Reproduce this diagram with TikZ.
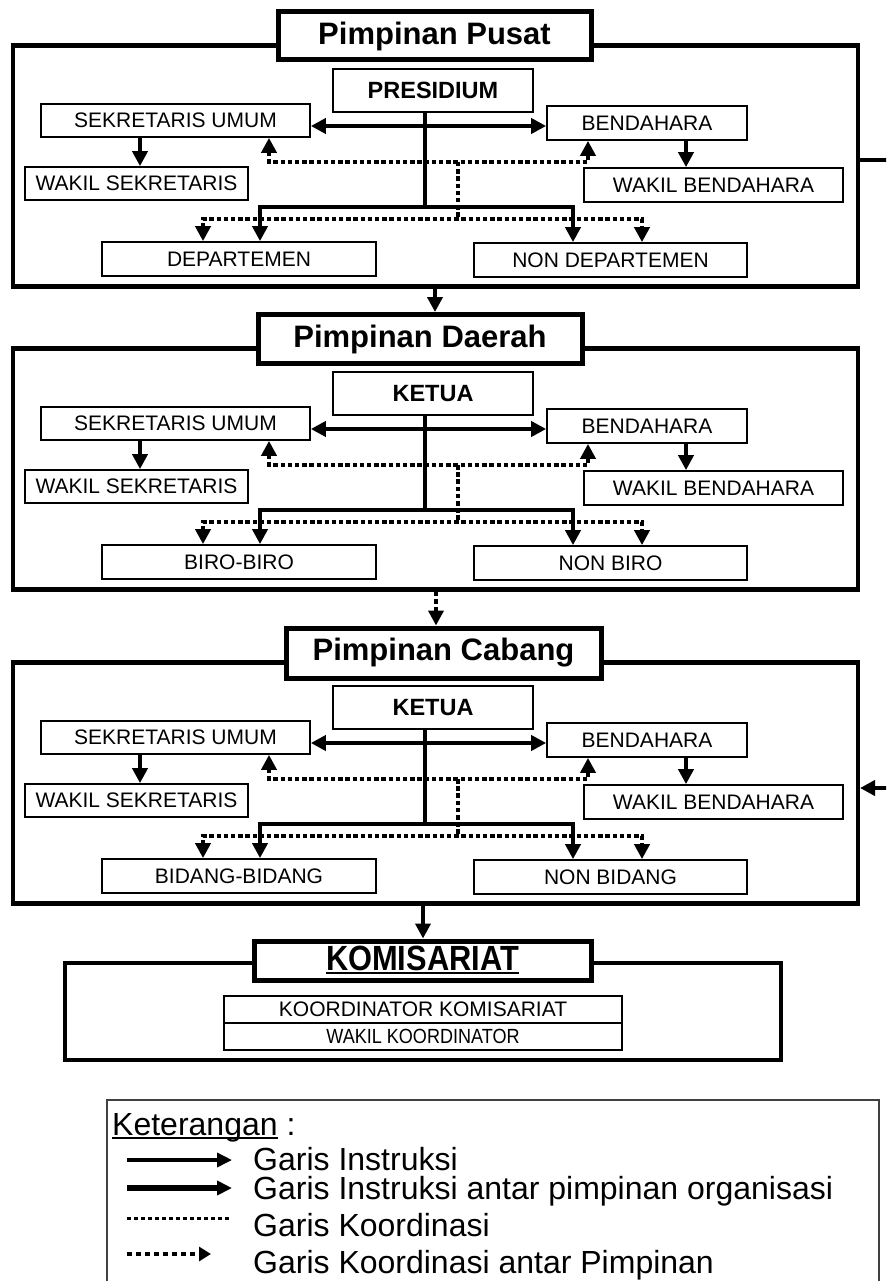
\documentclass[tikz,border=0pt]{standalone}
\usepackage{fontspec}
\setmainfont{Liberation Sans}
\newfontfamily\narrowfont{Liberation Sans}[FakeStretch=0.88]
\usetikzlibrary{arrows.meta, calc}

\begin{document}
\begin{tikzpicture}[x=1pt, y=-1pt, >={Triangle[length=15pt, width=15pt]}]
  \newcommand\lblfont{\fontsize{21}{24}\selectfont}
  \newcommand\headfont{\fontsize{23.5}{27}\selectfont\bfseries}
  \newcommand\ttlfont{\fontsize{31}{36}\selectfont\bfseries}
  \newcommand\legfont{\fontsize{32}{36}\selectfont}
  \newcommand\ulword[2]{\setbox0=\hbox{#2}\rlap{\rule[-#1]{\wd0}{2.5pt}}\box0{}}

  \tikzset{frame/.style={draw, line width=4.5pt, minimum width=845pt, minimum height=241pt, inner sep=0pt}}
  \tikzset{titlebox/.style={draw, fill=white, line width=5pt, inner sep=0pt, font=\ttlfont}}
  \tikzset{headbox/.style={draw, line width=1.7pt, minimum width=200pt, minimum height=43pt, inner sep=0pt, font=\headfont}}
  \tikzset{unitbox/.style={draw, line width=1.7pt, minimum height=33pt, inner sep=0pt, font=\lblfont}}
  \tikzset{instr/.style={line width=4pt}}
  \tikzset{koord/.style={line width=4pt, dash pattern=on 4.5pt off 2.7pt}}
  \tikzset{bigline/.style={line width=4.5pt}}
  \tikzset{bigdot/.style={line width=4.5pt, dash pattern=on 4.5pt off 3pt}}
  \tikzset{legtext/.style={inner sep=0pt, anchor=base west, font=\legfont}}
  \tikzset{legthin/.style={line width=3.5pt, -{Triangle[length=15pt, width=14pt]}}}
  \tikzset{legthick/.style={line width=5.5pt, -{Triangle[length=15pt, width=14pt]}}}
  \tikzset{legdot/.style={line width=3pt, dash pattern=on 3.5pt off 3.5pt}}
  \tikzset{legdotarrow/.style={line width=4.5pt, dash pattern=on 5pt off 4pt, -{Triangle[length=12pt, width=14pt]}}}

  \useasboundingbox (0,0) rectangle (886,1281);
  \clip (0,0) rectangle (886,1281);

  % pimpinan pusat, daerah, cabang
  \foreach \i/\ttl/\ttlx/\ttlw/\ttlh/\head/\lo/\ro/\off in {%
      1/Pimpinan Pusat/434.5/313pt/48pt/PRESIDIUM/DEPARTEMEN/NON DEPARTEMEN/0,
      2/Pimpinan Daerah/420/324pt/49pt/KETUA/BIRO-BIRO/NON BIRO/303,
      3/Pimpinan Cabang/443.5/315pt/50pt/KETUA/BIDANG-BIDANG/NON BIDANG/617}{
    \node[frame] (frame\i) at (435.25, 166+\off) {};
    \node[titlebox, minimum width=\ttlw, minimum height=\ttlh] (ttl\i) at (\ttlx, 36+\off) {\ttl};

    \node[headbox] (head\i) at (433, 90.5+\off) {\head};
    \node[unitbox, minimum width=269pt] (sek\i) at (175.5, 120.5+\off) {SEKRETARIS UMUM};
    \node[unitbox, minimum width=200pt, minimum height=34pt] (bend\i) at (647, 123+\off) {BENDAHARA};
    \node[unitbox, minimum width=223pt] (wsek\i) at (136.5, 183.5+\off) {WAKIL SEKRETARIS};
    \node[unitbox, minimum width=259pt, minimum height=34pt] (wbend\i) at (713.5, 185+\off) {WAKIL BENDAHARA};
    \node[unitbox, minimum width=274pt, minimum height=34pt] (lo\i) at (239, 259+\off) {\lo};
    \node[unitbox, minimum width=273pt, minimum height=34pt] (ro\i) at (610.5, 260+\off) {\ro};

    \coordinate (hl\i) at (0, 126+\off);
    \coordinate (stem\i) at (425, 207+\off);
    \coordinate (bl\i) at (260, 207+\off);
    \coordinate (br\i) at (573, 207+\off);
    \coordinate (kl\i) at (269, 162+\off);
    \coordinate (kr\i) at (588, 162+\off);
    \coordinate (km\i) at (458, 162+\off);
    \coordinate (jl\i) at (203, 219+\off);
    \coordinate (jr\i) at (642, 219+\off);
    \coordinate (sw\i) at (140, 0);
    \coordinate (bw\i) at (686, 0);

    % garis instruksi
    \draw[instr, <->] (sek\i.east |- hl\i) -- (bend\i.west |- hl\i);
    \draw[instr] (stem\i |- head\i.south) -- (stem\i);
    \draw[instr, <->] (bl\i |- lo\i.north) -- (bl\i) -- (br\i) -- (br\i |- ro\i.north);
    \draw[instr, ->] (sek\i.south -| sw\i) -- (wsek\i.north -| sw\i);
    \draw[instr, ->] (bend\i.south -| bw\i) -- (wbend\i.north -| bw\i);
    % garis koordinasi
    \draw[koord, <->] (kl\i |- sek\i.south) -- (kl\i) -- (kr\i) -- (kr\i |- bend\i.south);
    \draw[koord] (km\i) -- (km\i |- jl\i);
    \draw[koord, <->] (jl\i |- lo\i.north) -- (jl\i) -- (jr\i) -- (jr\i |- ro\i.north);
  }

  % komisariat
  \node[frame, minimum width=716pt, minimum height=97pt] (komframe) at (423, 1011.5) {};
  \node[titlebox, minimum width=337pt, minimum height=39pt, font=\narrowfont\bfseries\fontsize{35}{40}\selectfont] (komttl) at (422.5, 960.5) {\ulword{3.5pt}{KOMISARIAT}};
  \node[unitbox, minimum width=398pt, minimum height=27pt] (kor) at (423, 1009.5) {KOORDINATOR KOMISARIAT};
  \node[unitbox, minimum width=398pt, minimum height=27pt, font=\narrowfont\fontsize{20.5}{23}\selectfont] (wkor) at (423, 1036.5) {WAKIL KOORDINATOR};

  % antar pimpinan
  \coordinate (c12) at (435, 0);
  \coordinate (c23) at (436, 0);
  \coordinate (c3k) at (423, 0);
  \draw[bigline, ->] (frame1.south -| c12) -- (ttl2.north -| c12);
  \draw[bigdot, ->] (frame2.south -| c23) -- (ttl3.north -| c23);
  \draw[bigline, ->] (frame3.south -| c3k) -- (komttl.north -| c3k);
  \coordinate (outtop) at (900, 160);
  \coordinate (outbot) at (900, 788);
  \draw[bigline, ->] (frame1.east |- outtop) -- (outtop) -- (outbot) -- (frame3.east |- outbot);

  % keterangan
  \draw[line width=1.2pt, draw=black!75] (107, 1100) rectangle (879, 1300);
  \node[legtext] (ket) at (112, 1135) {\ulword{4pt}{Keterangan} :};
  \foreach \lnstyle/\lx/\ly/\ty/\txt [count=\r] in {%
      legthin/232/1160/1170/Garis Instruksi,
      legthick/232/1188/1199/Garis Instruksi antar pimpinan organisasi,
      legdot/232/1218/1236/Garis Koordinasi,
      legdotarrow/211/1254/1273/Garis Koordinasi antar Pimpinan}{
    \coordinate (ls\r) at (127, \ly);
    \coordinate (le\r) at (\lx, \ly);
    \draw[\lnstyle] (ls\r) -- (le\r);
    \node[legtext] (leg\r) at (253, \ty) {\txt};
  }
\end{tikzpicture}
\end{document}
